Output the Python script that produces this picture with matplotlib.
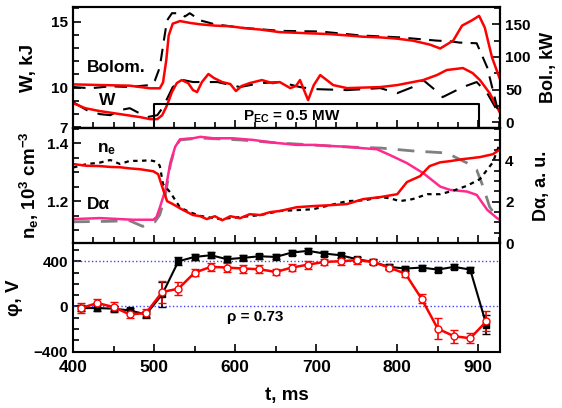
import matplotlib.pyplot as plt
import numpy as np
from matplotlib.ticker import MultipleLocator

plt.rcParams['font.family'] = ['Liberation Sans', 'DejaVu Sans']
plt.rcParams['font.weight'] = 'bold'
plt.rcParams['axes.labelweight'] = 'bold'
plt.rcParams['mathtext.fontset'] = 'custom'
plt.rcParams['mathtext.rm'] = 'Liberation Sans:bold'
plt.rcParams['mathtext.bf'] = 'Liberation Sans:bold'
plt.rcParams['mathtext.it'] = 'Liberation Sans:bold'
plt.rcParams['mathtext.default'] = 'bf'

# --- top panel: bolometer (kW, right axis) and W (kJ, left axis)
bol_a_t = [400, 433, 470, 495, 507, 511, 515, 518, 523, 532, 545, 557, 575, 594, 612, 631, 655,
           676, 696, 717, 738, 758, 779, 800, 819, 840, 853, 869, 880, 892, 901, 908, 917, 927]
bol_a = [58, 57, 56, 52, 52, 61, 95, 133, 151, 155, 152, 150, 148, 147, 144, 142, 138,
         137, 136, 135, 133, 131, 130, 128, 125, 119, 113, 125, 148, 156, 163, 145, 99, 65]
bol_b_t = [400, 421, 446, 470, 495, 501, 507, 512, 516, 522, 532, 538, 544, 557, 575, 606, 655,
           705, 754, 803, 849, 865, 877, 898, 911, 921, 927]
bol_b = [54, 52, 55, 54, 57, 64, 84, 125, 156, 167, 167, 162, 167, 156, 150, 145, 140,
         139, 133, 130, 125, 124, 122, 121, 84, 34, 3]

w_a_t = [400, 415, 433, 458, 483, 495, 504, 510, 516, 522, 528, 534, 542, 548, 553, 559, 567, 574,
         584, 594, 601, 608, 618, 633, 646, 655, 668, 675, 680, 690, 697, 705, 713, 721, 738,
         779, 800, 832, 849, 861, 881, 893, 902, 914, 927]
w_a = [8.82, 8.44, 8.22, 7.99, 7.76, 7.61, 7.61, 7.91, 8.67, 9.66, 10.34, 10.57, 10.34, 9.81,
       9.66, 10.42, 11.03, 10.72, 10.42, 10.27, 9.74, 10.12, 10.34, 10.57, 10.34, 10.42, 9.96,
       10.12, 10.57, 9.05, 10.19, 10.95, 10.57, 10.19, 9.96, 10.04, 10.19, 10.57, 10.95, 11.33,
       11.48, 11.10, 10.57, 9.58, 8.06]
w_b_t = [400, 417, 433, 446, 458, 470, 491, 504, 511, 523, 536, 548, 578, 606, 631, 655, 680,
         696, 738, 779, 800, 819, 832, 844, 856, 881, 898, 911, 923, 927]
w_b = [8.90, 8.29, 7.99, 7.91, 8.29, 8.44, 7.76, 7.91, 8.52, 10.04, 10.57, 10.42, 10.42, 10.04,
       10.34, 10.42, 10.04, 9.89, 9.81, 9.96, 9.58, 10.04, 10.57, 9.96, 9.28, 10.04, 10.42,
       9.58, 8.29, 7.53]

pec_t = [400, 500, 500, 901, 901, 927]
pec = [6.95, 6.95, 8.75, 8.75, 6.95, 6.95]

# --- middle panel: n_e (left) and D-alpha (right)
ne_a_t = [400, 417, 433, 446, 458, 470, 483, 499, 505, 511, 516, 523, 534, 548, 557, 565, 575,
          584, 594, 606, 618, 631, 643, 655, 676, 696, 717, 738, 758, 779, 800, 812, 828, 840,
          853, 865, 881, 902, 918, 927]
ne_a = [1.328, 1.322, 1.321, 1.318, 1.317, 1.313, 1.310, 1.303, 1.293, 1.241, 1.200, 1.190,
        1.172, 1.152, 1.148, 1.138, 1.148, 1.134, 1.148, 1.141, 1.155, 1.152, 1.162, 1.166,
        1.179, 1.183, 1.186, 1.190, 1.207, 1.214, 1.224, 1.266, 1.286, 1.321, 1.334, 1.338,
        1.345, 1.352, 1.362, 1.379]
ne_b_t = [400, 417, 433, 446, 458, 470, 483, 495, 503, 507, 511, 520, 532, 544, 557, 581, 606,
          631, 655, 696, 738, 760, 779, 791, 803, 819, 837, 853, 869, 886, 902, 918, 927]
ne_b = [1.316, 1.328, 1.333, 1.342, 1.328, 1.339, 1.339, 1.341, 1.336, 1.322, 1.259, 1.230,
        1.178, 1.162, 1.149, 1.138, 1.145, 1.152, 1.166, 1.172, 1.200, 1.203, 1.214, 1.210,
        1.200, 1.207, 1.224, 1.224, 1.236, 1.253, 1.276, 1.334, 1.403]

da_a_t = [400, 433, 474, 499, 503, 507, 514, 520, 526, 532, 548, 557, 573, 597, 622, 647, 655,
          676, 696, 717, 738, 758, 775, 791, 812, 832, 853, 865, 886, 898, 911, 923, 927]
da_a = [1.16, 1.21, 1.13, 1.13, 1.26, 1.71, 2.57, 3.87, 4.65, 5.01, 5.06, 5.13, 5.06, 5.06,
        4.98, 4.85, 4.82, 4.74, 4.74, 4.69, 4.65, 4.58, 4.53, 4.25, 3.86, 3.38, 2.73, 2.57,
        2.49, 2.33, 1.61, 1.21, 1.13]
da_b_t = [400, 440, 470, 486, 495, 501, 507, 514, 520, 526, 532, 557, 606, 655, 738, 779, 819,
          861, 886, 898, 906, 914, 923, 927]
da_b = [1.03, 1.05, 1.08, 0.81, 0.99, 1.03, 1.37, 2.33, 3.77, 4.64, 4.98, 5.07, 4.98, 4.83,
        4.64, 4.59, 4.45, 4.35, 3.87, 3.53, 2.72, 1.75, 1.23, 1.08]

# --- bottom panel: potential phi
phi_t = [410, 430, 450, 470, 490, 510, 530, 550, 570, 590, 610, 630, 650,
         670, 690, 710, 730, 750, 770, 790, 810, 830, 850, 870, 890, 910]
phi_black = [-15, -15, -20, -36, -71, 107, 400, 438, 453, 418, 430, 444, 438,
             477, 492, 468, 453, 418, 394, 350, 335, 344, 326, 350, 326, -163]
phi_black_err = [25, 25, 25, 25, 30, 110, 37, 25, 25, 25, 22, 22, 22,
                 22, 22, 22, 22, 22, 22, 22, 22, 22, 22, 22, 25, 86]
phi_red = [-15, 30, -6, -71, -59, 127, 157, 299, 350, 344, 335, 329, 305,
           344, 370, 394, 400, 409, 394, 344, 290, 68, -198, -264, -282, -133]
phi_red_err = [44, 35, 44, 35, 35, 96, 60, 33, 35, 40, 35, 35, 30,
               30, 35, 30, 30, 30, 20, 25, 30, 40, 92, 59, 44, 89]

RED = '#ff0000'
PINK = '#ff2a8f'
fs_tick = 11

fig = plt.figure(figsize=(5.62, 4.08), dpi=100)
ax1 = fig.add_axes([0.130, 0.686, 0.760, 0.296])
ax2 = fig.add_axes([0.130, 0.404, 0.760, 0.282])
ax3 = fig.add_axes([0.130, 0.137, 0.760, 0.267])


def style(ax):
    for s in ax.spines.values():
        s.set_linewidth(1.5)
    ax.tick_params(which='both', direction='in', width=1.2, labelsize=fs_tick)
    ax.tick_params(which='major', length=6)
    ax.tick_params(which='minor', length=4)
    ax.set_xlim(400, 927)
    ax.xaxis.set_major_locator(MultipleLocator(100))
    ax.xaxis.set_minor_locator(MultipleLocator(25))


# top panel
ax1r = ax1.twinx()
ax1r.plot(bol_b_t, bol_b, color='black', lw=1.5, dashes=(6, 4))
ax1r.plot(bol_a_t, bol_a, color=RED, lw=1.8)
ax1.plot(w_b_t, w_b, color='black', lw=1.5, dashes=(8, 5))
ax1.plot(w_a_t, w_a, color=RED, lw=1.8)
ax1.plot(pec_t, pec, color='black', lw=1.5)
ax1.set_ylim(6.93, 16.08)
ax1.set_yticks([7, 10, 15])
ax1.yaxis.set_minor_locator(MultipleLocator(1))
ax1r.set_ylim(-9, 176)
ax1r.set_yticks([0, 50, 100, 150])
ax1r.yaxis.set_minor_locator(MultipleLocator(25))
style(ax1)
style(ax1r)
ax1.tick_params(labelbottom=False)
ax1.set_ylabel('W, kJ', fontsize=13.5, labelpad=10)
ax1r.set_ylabel('Bol., kW', fontsize=13, labelpad=7)
ax1.text(453, 11.56, 'Bolom.', fontsize=12.5, ha='center', va='center')
ax1.text(442, 9.05, 'W', fontsize=12.5, ha='center', va='center')
ax1.text(610, 7.76, 'P$_{EC}$ = 0.5 MW', fontsize=11, ha='left', va='center')

# middle panel
ax2r = ax2.twinx()
ax2r.plot(da_b_t, da_b, color='#808080', lw=2, dashes=(6, 4))
ax2r.plot(da_a_t, da_a, color=PINK, lw=1.8)
ax2.plot(ne_b_t, ne_b, color='black', lw=1.6, dashes=(2, 2))
ax2.plot(ne_a_t, ne_a, color=RED, lw=1.8)
ax2.set_zorder(ax2r.get_zorder() + 1)
ax2.patch.set_visible(False)
ax2.set_ylim(1.055, 1.452)
ax2.set_yticks([1.2, 1.4])
ax2.yaxis.set_minor_locator(MultipleLocator(0.05))
ax2r.set_ylim(0, 5.55)
ax2r.set_yticks([0, 2, 4])
ax2r.yaxis.set_minor_locator(MultipleLocator(0.5))
style(ax2)
style(ax2r)
ax2.tick_params(labelbottom=False)
ax2.set_ylabel('n$_e$, 10$^3$ cm$^{-3}$', fontsize=13.5, labelpad=4)
ax2r.set_ylabel('D\u03b1, a. u.', fontsize=13, labelpad=14)
ax2.text(430, 1.379, 'n$_e$', fontsize=12.5, ha='left', va='center')
ax2.text(417, 1.190, 'D\u03b1', fontsize=12.5, ha='left', va='center')

# bottom panel
ax3.axhline(400, color='#4040ff', lw=1, ls=':')
ax3.axhline(0, color='#4040ff', lw=1, ls=':')
ax3.errorbar(phi_t, phi_black, yerr=phi_black_err, color='black', lw=1.5, marker='s',
             markersize=4, capsize=3, elinewidth=1.2)
ax3.errorbar(phi_t, phi_red, yerr=phi_red_err, color=RED, lw=1.8, marker='o',
             markersize=5, markerfacecolor='white', markeredgecolor=RED, capsize=3,
             elinewidth=1.2)
ax3.set_ylim(-405, 560)
ax3.set_yticks([-400, 0, 400])
ax3.yaxis.set_minor_locator(MultipleLocator(100))
style(ax3)
ax3.xaxis.set_major_locator(MultipleLocator(100))
ax3.xaxis.set_minor_locator(MultipleLocator(50))
ax3.tick_params(axis='x', labelsize=12.5, pad=6)
ax3.set_ylabel('\u03c6, V', fontsize=13.5, labelpad=8)
ax3.set_xlabel('t, ms', fontsize=13.5, labelpad=8)
ax3.text(590, -98, '\u03c1 = 0.73', fontsize=11, ha='left', va='center')

plt.savefig('out.png', dpi=100)
